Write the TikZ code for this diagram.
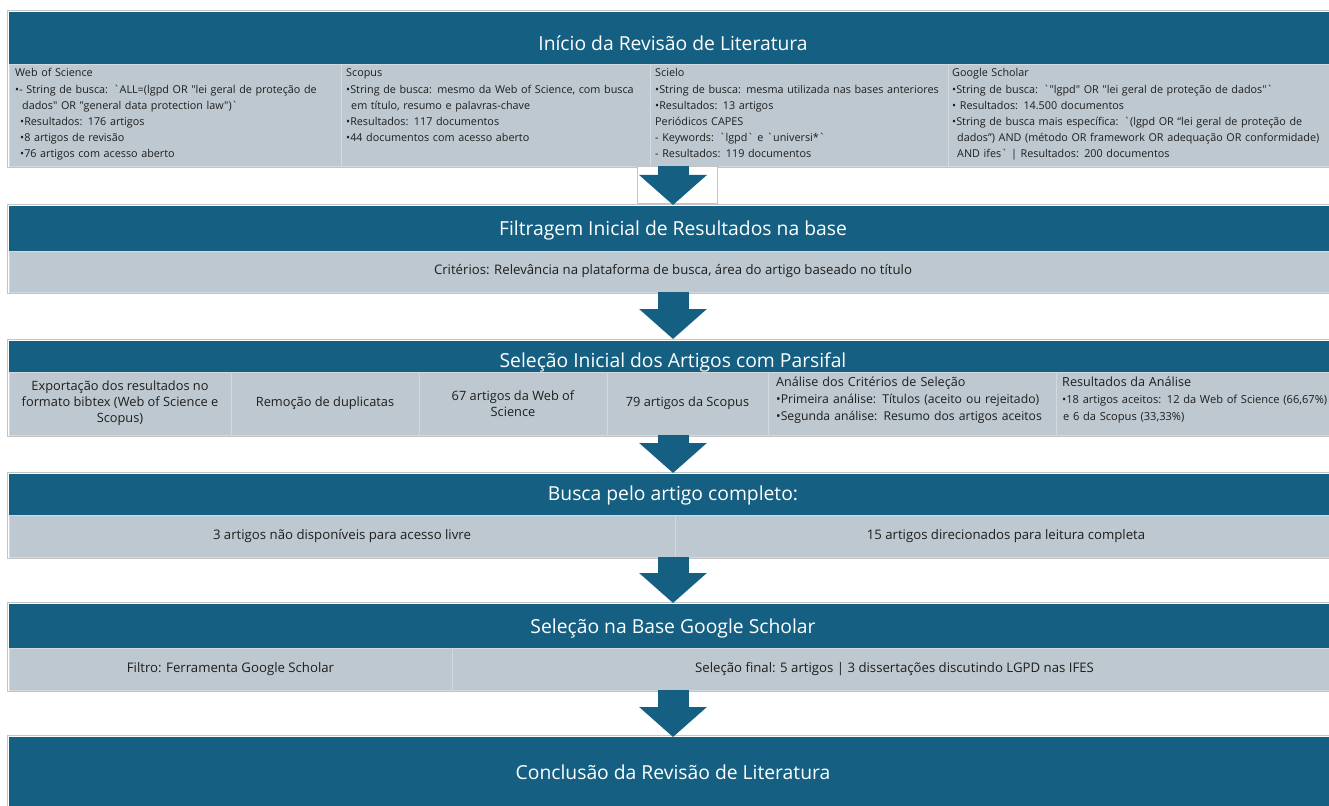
\documentclass[tikz,border=0pt]{standalone}
\usepackage{fontspec}
\setmainfont{Open Sans}[Ligatures=TeXOff]
\usetikzlibrary{arrows.meta,calc}
\definecolor{hdrc}{HTML}{156082}
\definecolor{cellc}{HTML}{BDC8D0}
\definecolor{celline}{HTML}{D2DAE0}
\definecolor{frmc}{HTML}{C4C4C4}
\definecolor{txtc}{HTML}{1E1E1E}
\newcommand\myhfont{\fontsize{19.3}{22}\selectfont}
\newcommand\mycfont{\fontsize{13.2}{16}\selectfont}
\newcommand\mythreefont{\fontsize{12.8}{16}\selectfont}
\newcommand\mysfont{\fontsize{10.8}{15.8}\selectfont}
\newcommand\myttlfont{\fontsize{12.6}{16}\selectfont}
\newcommand\mybulfont{\fontsize{12.2}{16.5}\selectfont}
\newcommand\myresfont{\fontsize{11.1}{16.5}\selectfont}
\begin{document}
\begin{tikzpicture}[x=1pt,y=-1pt,
  hdrbox/.style={fill=hdrc, inner sep=0pt, outer sep=0pt, anchor=north west, minimum width=1328pt},
  httl/.style={anchor=base, inner sep=0pt, text=white, font=\myhfont},
  cellbox/.style={fill=cellc, draw=celline, line width=0.8pt, inner sep=0pt, outer sep=0pt, anchor=north west, text=txtc, font=\mycfont, align=center},
  frm/.style={draw=frmc, line width=0.8pt},
  bodytxt/.style={anchor=base west, inner sep=0pt, text=txtc, font=\mysfont, align=left, text width=460pt},
  bigarrow/.style={draw=hdrc, line width=31pt, -{Triangle[length=30pt,width=66pt]}},
]
\useasboundingbox (0,0) rectangle (1329,805);
\clip (0,0) rectangle (1329,805);
\fill[white] (0,0) rectangle (1329,805);

% ---------- Section 1
\draw[frm] (7,10) rectangle (1340,167);
\node[hdrbox, minimum height=52pt] (hdr1) at (9,12) {};
\node[httl] (h1t) at (673,51) {Início da Revisão de Literatura};
\node[cellbox, minimum width=332pt, minimum height=102pt] (c11) at (9,64) {};
\node[cellbox, minimum width=309pt, minimum height=102pt] (c12) at (341,64) {};
\node[cellbox, minimum width=298pt, minimum height=102pt] (c13) at (650,64) {};
\node[cellbox, minimum width=389pt, minimum height=102pt] (c14) at (948,64) {};

\node[bodytxt] (t11) at (15,77) {Web of Science\\[1.2pt]
•- String de busca: `ALL=(lgpd OR "lei geral de proteção de\\
\hspace*{7pt}dados" OR "general data protection law")`\\
\hspace*{5pt}•Resultados: 176 artigos\\
\hspace*{5pt}•8 artigos de revisão\\
\hspace*{5pt}•76 artigos com acesso aberto};

\node[bodytxt] (t12) at (346,77) {Scopus\\[1.2pt]
•String de busca: mesmo da Web of Science, com busca\\
\hspace*{5pt}em título, resumo e palavras-chave\\
•Resultados: 117 documentos\\
•44 documentos com acesso aberto};

\node[bodytxt] (t13) at (655,77) {Scielo\\[1.2pt]
•String de busca: mesma utilizada nas bases anteriores\\
•Resultados: 13 artigos\\
Periódicos CAPES\\
- Keywords: `lgpd` e `universi*`\\
- Resultados: 119 documentos};

\node[bodytxt] (t14) at (952,77) {Google Scholar\\[1.2pt]
•String de busca: `"lgpd" OR "lei geral de proteção de dados"`\\
• Resultados: 14.500 documentos\\
•String de busca mais específica: `(lgpd OR “lei geral de proteção de\\
\hspace*{5pt}dados”) AND (método OR framework OR adequação OR conformidade)\\
\hspace*{5pt}AND ifes` | Resultados: 200 documentos};

% gap box under section 1
\node[draw=frmc, line width=0.8pt, fill=white, anchor=north west, inner sep=0pt, outer sep=0pt, minimum width=80pt, minimum height=37pt] (gap1) at (637,166) {};

% ---------- Section 2
\draw[frm] (7,204) rectangle (1340,293);
\node[hdrbox, minimum height=45pt] (hdr2) at (9,206) {};
\node[httl] (h2t) at (673,235) {Filtragem Inicial de Resultados na base};
\node[cellbox, minimum width=1328pt, minimum height=41pt] (c21) at (9,251) {Critérios: Relevância na plataforma de busca, área do artigo baseado no título};

% ---------- Section 3
\draw[frm] (7,339) rectangle (1340,436);
\node[hdrbox, minimum height=31pt] (hdr3) at (9,341) {};
\node[httl] (h3t) at (673,367.5) {Seleção Inicial dos Artigos com Parsifal};
\node[cellbox, font=\mythreefont, minimum width=222pt, minimum height=63pt] (c31) at (9,372) {Exportação dos resultados no\\formato bibtex (Web of Science e\\Scopus)};
\node[cellbox, font=\mythreefont, minimum width=188pt, minimum height=63pt] (c32) at (231,372) {Remoção de duplicatas};
\node[cellbox, font=\mythreefont, minimum width=188pt, minimum height=63pt] (c33) at (419,372) {67 artigos da Web of\\Science};
\node[cellbox, font=\mythreefont, minimum width=161pt, minimum height=63pt] (c34) at (607,372) {79 artigos da Scopus};
\node[cellbox, minimum width=288pt, minimum height=63pt] (c35) at (768,372) {};
\node[cellbox, minimum width=281pt, minimum height=63pt] (c36) at (1056,372) {};
\node[bodytxt, font=\mybulfont] (t35) at (776,386.5) {{\myttlfont Análise dos Critérios de Seleção}\\[0.5pt]
•Primeira análise: Títulos (aceito ou rejeitado)\\
•Segunda análise: Resumo dos artigos aceitos};
\node[bodytxt, font=\myresfont] (t36) at (1062,386.5) {{\myttlfont Resultados da Análise}\\[0.5pt]
•18 artigos aceitos: 12 da Web of Science (66,67\%)\\
\hspace*{1pt}e 6 da Scopus (33,33\%)};

% ---------- Section 4
\draw[frm] (7,472) rectangle (1340,558);
\node[hdrbox, minimum height=41pt] (hdr4) at (9,474) {};
\node[httl] (h4t) at (673,500) {Busca pelo artigo completo:};
\node[cellbox, minimum width=666pt, minimum height=42pt] (c41) at (9,515) {3 artigos não disponíveis para acesso livre};
\node[cellbox, minimum width=662pt, minimum height=42pt] (c42) at (675,515) {15 artigos direcionados para leitura completa};

% ---------- Section 5
\draw[frm] (7,602) rectangle (1340,691);
\node[hdrbox, minimum height=44pt] (hdr5) at (9,604) {};
\node[httl] (h5t) at (673,633) {Seleção na Base Google Scholar};
\node[cellbox, minimum width=443pt, minimum height=42pt] (c51) at (9,648) {Filtro: Ferramenta Google Scholar};
\node[cellbox, minimum width=885pt, minimum height=42pt] (c52) at (452,648) {Seleção final: 5 artigos | 3 dissertações discutindo LGPD nas IFES};

% ---------- Section 6
\draw[frm] (7,735) rectangle (1340,812);
\node[hdrbox, minimum height=72pt] (hdr6) at (9,737) {};
\node[httl] (h6t) at (673,779) {Conclusão da Revisão de Literatura};

% ---------- Arrows
\draw[bigarrow] (hdr2.north |- c11.south) -- ($(hdr2.north)+(0,-1)$);
\draw[bigarrow] (hdr3.north |- c21.south) -- ($(hdr3.north)+(0,-2)$);
\draw[bigarrow] (hdr4.north |- c31.south) -- ($(hdr4.north)+(0,-1)$);
\draw[bigarrow] (hdr5.north |- c41.south) -- ($(hdr5.north)+(0,-1)$);
\draw[bigarrow] (hdr6.north |- c51.south) -- (hdr6.north);
\end{tikzpicture}
\end{document}
